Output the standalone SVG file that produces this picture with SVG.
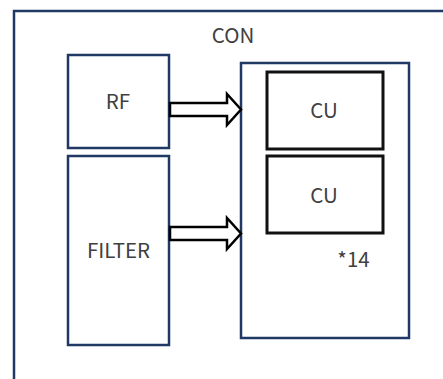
<svg xmlns="http://www.w3.org/2000/svg" width="443" height="379" viewBox="0 0 443 379">
  <defs>
    <style>
      .frame { fill: none; stroke: #1f3864; stroke-width: 2.5; }
      .block { fill: #ffffff; stroke: #1f3864; stroke-width: 2.5; }
      .cu { fill: #ffffff; stroke: #111111; stroke-width: 3; }
      .label { font-family: "Noto Sans CJK SC", "Liberation Sans", sans-serif; font-size: 20.5px; fill: #404040; text-anchor: middle; }
      .arrow { fill: #ffffff; stroke: #000000; stroke-width: 2.5; stroke-linejoin: miter; }
    </style>
  </defs>
  <rect width="443" height="379" fill="#ffffff"/>

  <!-- outer controller frame -->
  <g id="con">
    <rect class="frame" x="14" y="11" width="450" height="400"/>
    <text class="label" x="233" y="43">CON</text>
  </g>

  <g id="rf">
    <rect class="block" x="68" y="55" width="101" height="93"/>
    <text class="label" x="118" y="109">RF</text>
  </g>

  <g id="filter">
    <rect class="block" x="68" y="156" width="101" height="189"/>
    <text class="label" x="118.5" y="258">FILTER</text>
  </g>

  <g id="cu-array">
    <rect class="block" x="241" y="63" width="168" height="275"/>
    <text class="label" x="353.5" y="267">*14</text>
  </g>

  <g id="cu1">
    <rect class="cu" x="267" y="72" width="116" height="77"/>
    <text class="label" x="324" y="118">CU</text>
  </g>

  <g id="cu2">
    <rect class="cu" x="267" y="156" width="116" height="77"/>
    <text class="label" x="324" y="203">CU</text>
  </g>

  <!-- block arrows into the CU array -->
  <g id="connectors">
    <polygon class="arrow" points="170,103 227,103 227,94 241,109.5 227,125 227,116 170,116"/>
    <polygon class="arrow" points="170,227 227,227 227,218 241,233.5 227,249 227,240 170,240"/>
  </g>
</svg>
